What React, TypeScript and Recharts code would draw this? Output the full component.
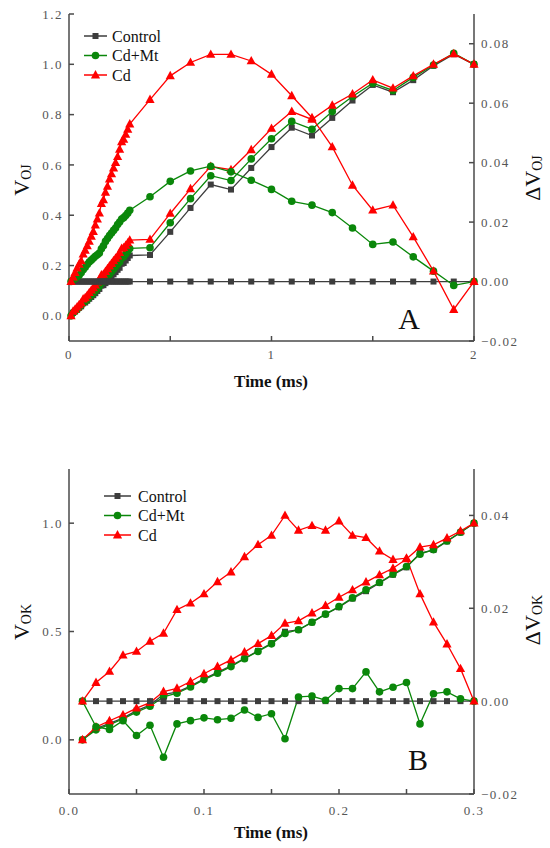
import React from "react";
import { Legend, Line, LineChart, XAxis, YAxis } from "recharts";

// ---- panel A: V_OJ and ΔV_OJ, 0.01–2 ms ----
const timeA = [
  0.01, 0.02, 0.03, 0.04, 0.05, 0.06, 0.07, 0.08, 0.09, 0.1, 0.11, 0.12, 0.13, 0.14, 0.15,
  0.16, 0.17, 0.18, 0.19, 0.2, 0.21, 0.22, 0.23, 0.24, 0.25, 0.26, 0.27, 0.28, 0.29, 0.3,
  0.4, 0.5, 0.6, 0.7, 0.8, 0.9, 1.0, 1.1, 1.2, 1.3, 1.4, 1.5, 1.6, 1.7, 1.8, 1.9, 2.0,
];
const vojControl = [
  0, 0.012, 0.018, 0.024, 0.032, 0.038, 0.05, 0.053, 0.06, 0.068, 0.075, 0.082, 0.09, 0.099, 0.107,
  0.12, 0.122, 0.13, 0.139, 0.147, 0.156, 0.165, 0.174, 0.183, 0.191, 0.207, 0.21, 0.22, 0.23, 0.24,
  0.242, 0.334, 0.429, 0.522, 0.502, 0.588, 0.671, 0.748, 0.717, 0.787, 0.856, 0.918, 0.889, 0.937, 0.994, 1.04, 1.0,
];
const vojCdMt = [
  0, 0.012, 0.019, 0.026, 0.034, 0.042, 0.053, 0.058, 0.065, 0.075, 0.082, 0.091, 0.1, 0.109, 0.119,
  0.132, 0.136, 0.146, 0.155, 0.165, 0.176, 0.185, 0.195, 0.205, 0.214, 0.23, 0.235, 0.246, 0.257, 0.268,
  0.271, 0.37, 0.466, 0.557, 0.538, 0.624, 0.704, 0.773, 0.742, 0.812, 0.872, 0.925, 0.896, 0.948, 0.997, 1.044, 1.0,
];
const vojCd = [
  0, 0.018, 0.026, 0.035, 0.044, 0.052, 0.067, 0.072, 0.081, 0.092, 0.102, 0.111, 0.122, 0.134, 0.145,
  0.162, 0.165, 0.176, 0.187, 0.198, 0.208, 0.219, 0.229, 0.238, 0.251, 0.268, 0.271, 0.28, 0.29, 0.301,
  0.304, 0.407, 0.505, 0.594, 0.581, 0.66, 0.745, 0.812, 0.781, 0.837, 0.882, 0.938, 0.905, 0.954, 1.0, 1.042, 1.0,
];
const dvojControl = [
  0, 0, 0, 0, 0, 0, 0, 0, 0, 0, 0, 0, 0, 0, 0,
  0, 0, 0, 0, 0, 0, 0, 0, 0, 0, 0, 0, 0, 0, 0,
  0, 0, 0, 0, 0, 0, 0, 0, 0, 0, 0, 0, 0, 0, 0, 0, 0,
];
const dvojCdMt = [
  0, 0.0005, 0.001, 0.0016, 0.0021, 0.003, 0.004, 0.0048, 0.0057, 0.0066, 0.0072, 0.0078, 0.0085, 0.009, 0.0096,
  0.011, 0.012, 0.0135, 0.0145, 0.0155, 0.0163, 0.0172, 0.018, 0.0192, 0.02, 0.021, 0.0215, 0.0222, 0.023, 0.024,
  0.0285, 0.0337, 0.0372, 0.0388, 0.0369, 0.0341, 0.031, 0.027, 0.0257, 0.0232, 0.018, 0.0125, 0.0133, 0.0083, 0.0035, -0.0013, 0,
];
const dvojCd = [
  0, 0.0015, 0.003, 0.0045, 0.0058, 0.007, 0.0092, 0.0105, 0.012, 0.0135, 0.0152, 0.0168, 0.019, 0.021, 0.023,
  0.0262, 0.0275, 0.03, 0.032, 0.0345, 0.0362, 0.0382, 0.04, 0.042, 0.0445, 0.047, 0.0478, 0.0495, 0.0512, 0.053,
  0.0612, 0.0692, 0.0737, 0.0764, 0.0764, 0.0742, 0.0697, 0.0625, 0.0551, 0.0453, 0.0324, 0.024, 0.0257, 0.015, 0.0035, -0.0094, 0,
];

// ---- panel B: V_OK and ΔV_OK, 0.01–0.3 ms ----
const timeB = [
  0.01, 0.02, 0.03, 0.04, 0.05, 0.06, 0.07, 0.08, 0.09, 0.1, 0.11, 0.12, 0.13, 0.14, 0.15,
  0.16, 0.17, 0.18, 0.19, 0.2, 0.21, 0.22, 0.23, 0.24, 0.25, 0.26, 0.27, 0.28, 0.29, 0.3,
];
const vokControl = [
  0, 0.052, 0.076, 0.1, 0.135, 0.16, 0.21, 0.22, 0.248, 0.282, 0.311, 0.342, 0.376, 0.411, 0.446,
  0.499, 0.507, 0.542, 0.58, 0.612, 0.652, 0.686, 0.724, 0.762, 0.796, 0.862, 0.876, 0.916, 0.957, 1.0,
];
const vokCdMt = [
  0, 0.046, 0.07, 0.096, 0.128, 0.155, 0.198, 0.215, 0.244, 0.278, 0.307, 0.338, 0.374, 0.408, 0.443,
  0.491, 0.508, 0.543, 0.58, 0.615, 0.655, 0.692, 0.726, 0.765, 0.8, 0.857, 0.878, 0.918, 0.958, 1.0,
];
const vokCd = [
  0, 0.059, 0.088, 0.115, 0.146, 0.172, 0.223, 0.238, 0.269, 0.305, 0.338, 0.369, 0.405, 0.444, 0.481,
  0.538, 0.549, 0.585, 0.62, 0.658, 0.692, 0.728, 0.761, 0.792, 0.835, 0.889, 0.9, 0.931, 0.964, 1.0,
];
const dvokControl = [
  0, 0, 0, 0, 0, 0, 0, 0, 0, 0, 0, 0, 0, 0, 0,
  0, 0, 0, 0, 0, 0, 0, 0, 0, 0, 0, 0, 0, 0, 0,
];
const dvokCdMt = [
  0, -0.0055, -0.0061, -0.0042, -0.0074, -0.0052, -0.0121, -0.0049, -0.0042, -0.0036, -0.004, -0.0037, -0.0019, -0.0035, -0.0027,
  -0.0081, 0.0009, 0.0011, 0.0002, 0.0027, 0.0027, 0.0063, 0.002, 0.003, 0.004, -0.0049, 0.0016, 0.002, 0.0005, 0,
];
const dvokCd = [
  0, 0.004, 0.0064, 0.0099, 0.0107, 0.0129, 0.0146, 0.0197, 0.0211, 0.0231, 0.0257, 0.0278, 0.0311, 0.0337, 0.0357,
  0.04, 0.0368, 0.0378, 0.0368, 0.0388, 0.0357, 0.0352, 0.0323, 0.0305, 0.0308, 0.0231, 0.017, 0.0123, 0.007, 0,
];

// ticks
const xTicksA = [0, 0.5, 1, 1.5, 2];
const leftTicksA = [0, 0.2, 0.4, 0.6, 0.8, 1.0, 1.2];
const rightTicksA = [-0.02, 0, 0.02, 0.04, 0.06, 0.08];
const xTicksB = [0, 0.05, 0.1, 0.15, 0.2, 0.25, 0.3];
const leftTicksB = [0, 0.5, 1.0];
const rightTicksB = [-0.02, 0, 0.02, 0.04];

const DARK = "#3d3d3d";
const GREEN = "#0a870a";
const RED = "#ff0000";
const AXIS = "#4a4a4a";
const SERIF = "'Liberation Serif', 'Times New Roman', serif";
const tickStyle = { fontSize: 13, fill: "#555", fontFamily: SERIF, letterSpacing: 1.5 };

function makeRows(t: number[], cols: Record<string, number[]>) {
  return t.map((v, i) => {
    const row: Record<string, number> = { t: v };
    for (const k of Object.keys(cols)) row[k] = cols[k][i];
    return row;
  });
}

const rowsA = makeRows(timeA, {
  vC: vojControl, vM: vojCdMt, vD: vojCd, dC: dvojControl, dM: dvojCdMt, dD: dvojCd,
});
const rowsB = makeRows(timeB, {
  vC: vokControl, vM: vokCdMt, vD: vokCd, dC: dvokControl, dM: dvokCdMt, dD: dvokCd,
});

const minus = (s: string) => s.replace("-", "\u2212");
const isWhole = (v: number, step: number) => Math.abs(v / step - Math.round(v / step)) < 1e-6;

function squareDot(p: any) {
  return <rect key={`s${p.index}`} x={p.cx - 3} y={p.cy - 3} width={6} height={6} fill={DARK} />;
}
function circleDot(p: any) {
  return <circle key={`c${p.index}`} cx={p.cx} cy={p.cy} r={3.8} fill={GREEN} />;
}
function triDot(p: any) {
  const { cx, cy } = p;
  return (
    <polygon
      key={`t${p.index}`}
      points={`${cx},${cy - 5} ${cx - 4.6},${cy + 3.4} ${cx + 4.6},${cy + 3.4}`}
      fill={RED}
    />
  );
}

const SERIES = [
  { name: "Control", color: DARK, dot: squareDot },
  { name: "Cd+Mt", color: GREEN, dot: circleDot },
  { name: "Cd", color: RED, dot: triDot },
];

function LegendBox({ lineX0, lineX1, textX }: { lineX0: number; lineX1: number; textX: number }) {
  const mid = (lineX0 + lineX1) / 2;
  return (
    <svg width={140} height={62} style={{ display: "block", overflow: "visible" }}>
      {SERIES.map((s, i) => {
        const y = 10 + i * 19.5;
        return (
          <g key={s.name}>
            <line x1={lineX0} x2={lineX1} y1={y} y2={y} stroke={s.color} strokeWidth={1.5} />
            {s.dot({ cx: mid, cy: y, index: i })}
            <text x={textX} y={y} dominantBaseline="central" fontFamily={SERIF} fontSize={16} fill="#111">
              {s.name}
            </text>
          </g>
        );
      })}
    </svg>
  );
}

function seriesLines() {
  const keys = [
    ["vC", "left", 0],
    ["vM", "left", 1],
    ["vD", "left", 2],
    ["dC", "right", 0],
    ["dM", "right", 1],
    ["dD", "right", 2],
  ] as const;
  return keys.map(([k, axis, i]) => (
    <Line
      key={k}
      yAxisId={axis}
      dataKey={k}
      name={SERIES[i].name}
      type="linear"
      stroke={SERIES[i].color}
      strokeWidth={1.3}
      dot={SERIES[i].dot}
      activeDot={false}
      legendType={axis === "left" ? "line" : "none"}
      isAnimationActive={false}
    />
  ));
}

function YTitle({ x, y, main, sub }: { x: number; y: number; main: string; sub: string }) {
  return (
    <text
      transform={`translate(${x},${y}) rotate(-90)`}
      textAnchor="middle"
      dominantBaseline="central"
      fontFamily={SERIF}
      fontSize={22}
      fill="#111"
    >
      {main}
      <tspan fontSize={14} dy={5}>
        {sub}
      </tspan>
    </text>
  );
}

export default function App() {
  return (
    <div style={{ position: "absolute", left: 0, top: 0, width: 550, height: 848, background: "#fff" }}>
      <div style={{ position: "absolute", left: 0, top: 0 }}>
        <LineChart width={550} height={424} data={rowsA} margin={{ top: 14, right: 0, bottom: 0, left: 0 }}>
          <XAxis xAxisId="top" orientation="top" type="number" dataKey="t" domain={[0, 2]} height={0}
            tick={false} tickLine={false} stroke={AXIS} strokeWidth={1.5} />
          <XAxis type="number" dataKey="t" domain={[0, 2]} ticks={xTicksA} interval={0} height={83}
            tickSize={-5} tickMargin={14} stroke={AXIS} strokeWidth={1.5} tick={tickStyle}
            tickFormatter={(v: number) => (isWhole(v, 1) ? String(v) : "")} />
          <YAxis yAxisId="left" domain={[-0.1, 1.2]} ticks={leftTicksA} interval={0} width={69}
            tickSize={-5} tickMargin={11} stroke={AXIS} strokeWidth={1.5} tick={tickStyle}
            tickFormatter={(v: number) => v.toFixed(1)} />
          <YAxis yAxisId="right" orientation="right" domain={[-0.02, 0.09]} ticks={rightTicksA} interval={0}
            width={76} tickSize={-5} tickMargin={12} stroke={AXIS} strokeWidth={1.5} tick={tickStyle}
            tickFormatter={(v: number) => minus(v.toFixed(2))} />
          <Legend layout="vertical" align="center" verticalAlign="middle"
            wrapperStyle={{ left: 80, top: 26, width: 140, height: 62 }}
            content={() => <LegendBox lineX0={4} lineX1={27} textX={32} />} />
          {seriesLines()}
        </LineChart>
      </div>
      <div style={{ position: "absolute", left: 0, top: 424 }}>
        <LineChart width={550} height={424} data={rowsB} margin={{ top: 45, right: 0, bottom: 0, left: 0 }}>
          <XAxis xAxisId="top" orientation="top" type="number" dataKey="t" domain={[0, 0.3]} height={0}
            tick={false} tickLine={false} stroke={AXIS} strokeWidth={1.5} />
          <XAxis type="number" dataKey="t" domain={[0, 0.3]} ticks={xTicksB} interval={0} height={54}
            tickSize={-5} tickMargin={17} stroke={AXIS} strokeWidth={1.5} tick={tickStyle}
            tickFormatter={(v: number) => (isWhole(v, 0.1) ? v.toFixed(1) : "")} />
          <YAxis yAxisId="left" domain={[-0.25, 1.25]} ticks={leftTicksB} interval={0} width={69}
            tickSize={-5} tickMargin={11} stroke={AXIS} strokeWidth={1.5} tick={tickStyle}
            tickFormatter={(v: number) => v.toFixed(1)} />
          <YAxis yAxisId="right" orientation="right" domain={[-0.02, 0.05]} ticks={rightTicksB} interval={0}
            width={76} tickSize={-5} tickMargin={12} stroke={AXIS} strokeWidth={1.5} tick={tickStyle}
            tickFormatter={(v: number) => minus(v.toFixed(2))} />
          <Legend layout="vertical" align="center" verticalAlign="middle"
            wrapperStyle={{ left: 100, top: 62, width: 140, height: 62 }}
            content={() => <LegendBox lineX0={4} lineX1={31} textX={38} />} />
          {seriesLines()}
        </LineChart>
      </div>
      <svg width={550} height={848} style={{ position: "absolute", left: 0, top: 0, pointerEvents: "none" }}>
        <YTitle x={21} y={180} main="V" sub="OJ" />
        <YTitle x={532} y={178} main="ΔV" sub="OJ" />
        <YTitle x={21} y={622} main="V" sub="OK" />
        <YTitle x={532} y={620} main="ΔV" sub="OK" />
        <text x={271} y={381} textAnchor="middle" dominantBaseline="central" fontFamily={SERIF}
          fontSize={17} fontWeight="bold" fill="#111">Time (ms)</text>
        <text x={271} y={832} textAnchor="middle" dominantBaseline="central" fontFamily={SERIF}
          fontSize={17} fontWeight="bold" fill="#111">Time (ms)</text>
        <text x={409} y={318} textAnchor="middle" dominantBaseline="central" fontFamily={SERIF}
          fontSize={30} fill="#111">A</text>
        <text x={418} y={759} textAnchor="middle" dominantBaseline="central" fontFamily={SERIF}
          fontSize={30} fill="#111">B</text>
      </svg>
    </div>
  );
}
